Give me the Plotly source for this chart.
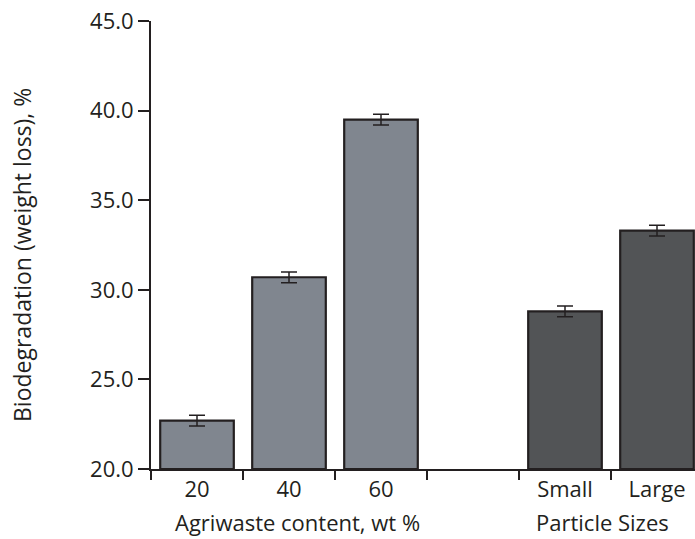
import plotly.graph_objects as go

# Biodegradation (weight loss, %) by agriwaste content and by particle size
content_labels = ["20", "40", "60"]
content_values = [22.7, 30.7, 39.5]
content_errors = [0.3, 0.3, 0.3]

size_labels = ["Small", "Large"]
size_values = [28.8, 33.3]
size_errors = [0.3, 0.3]

gap_label = " "
category_order = content_labels + [gap_label] + size_labels

y_ticks = [20, 25, 30, 35, 40, 45]
y_ticktext = ["20.0", "25.0", "30.0", "35.0", "40.0", "45.0"]

W, H = 695, 539
L, R, T, B = 151, 0, 21, 70
font_family = "Open Sans, DejaVu Sans, sans-serif"
ink = "#231f20"

base = 20

fig = go.Figure()
fig.add_trace(go.Bar(
    x=content_labels,
    y=[v - base for v in content_values],
    base=base,
    width=0.8,
    marker=dict(color="#80868f", line=dict(color=ink, width=2.2)),
    error_y=dict(type="data", array=content_errors, color=ink, thickness=1.5, width=8),
    showlegend=False,
))
fig.add_trace(go.Bar(
    x=size_labels,
    y=[v - base for v in size_values],
    base=base,
    width=0.8,
    marker=dict(color="#525456", line=dict(color=ink, width=2.2)),
    error_y=dict(type="data", array=size_errors, color=ink, thickness=1.5, width=8),
    showlegend=False,
))

plot_w = W - L - R
plot_h = H - T - B
slot_px = 92.0
x_max = -0.5 + plot_w / slot_px

title_y = -(522 - (H - B)) / plot_h

fig.update_layout(
    width=W, height=H,
    margin=dict(l=L, r=R, t=T, b=B, pad=0),
    paper_bgcolor="white", plot_bgcolor="white",
    font=dict(family=font_family, size=22, color=ink),
    barmode="overlay",
    xaxis=dict(
        type="category",
        categoryorder="array",
        categoryarray=category_order,
        range=[-0.5, x_max],
        showline=True, linecolor=ink, linewidth=2,
        ticks="outside", tickson="boundaries", ticklen=9, tickwidth=1.5, tickcolor=ink,
        showgrid=False, zeroline=False,
        tickfont=dict(size=22, family=font_family, color=ink),
    ),
    yaxis=dict(
        range=[20, 45],
        tickvals=y_ticks, ticktext=y_ticktext,
        showline=True, linecolor=ink, linewidth=2,
        ticks="outside", ticklen=11, tickwidth=1.5, tickcolor=ink,
        showgrid=False, zeroline=False,
        tickfont=dict(size=22, family=font_family, color=ink),
    ),
    annotations=[
        dict(text="Biodegradation (weight loss), %", textangle=-90,
             xref="paper", yref="paper",
             x=(22 - L) / plot_w, y=(H - B - 255) / plot_h,
             xanchor="center", yanchor="middle",
             showarrow=False, font=dict(size=23, family=font_family, color=ink)),
        dict(text="Agriwaste content, wt %", xref="x", yref="paper",
             x=1.09, y=title_y, xanchor="center", yanchor="middle",
             showarrow=False, font=dict(size=22, family=font_family, color=ink)),
        dict(text="Particle Sizes", xref="x", yref="paper",
             x=4.41, y=title_y, xanchor="center", yanchor="middle",
             showarrow=False, font=dict(size=22, family=font_family, color=ink)),
    ],
)

fig.write_html("out.html")
